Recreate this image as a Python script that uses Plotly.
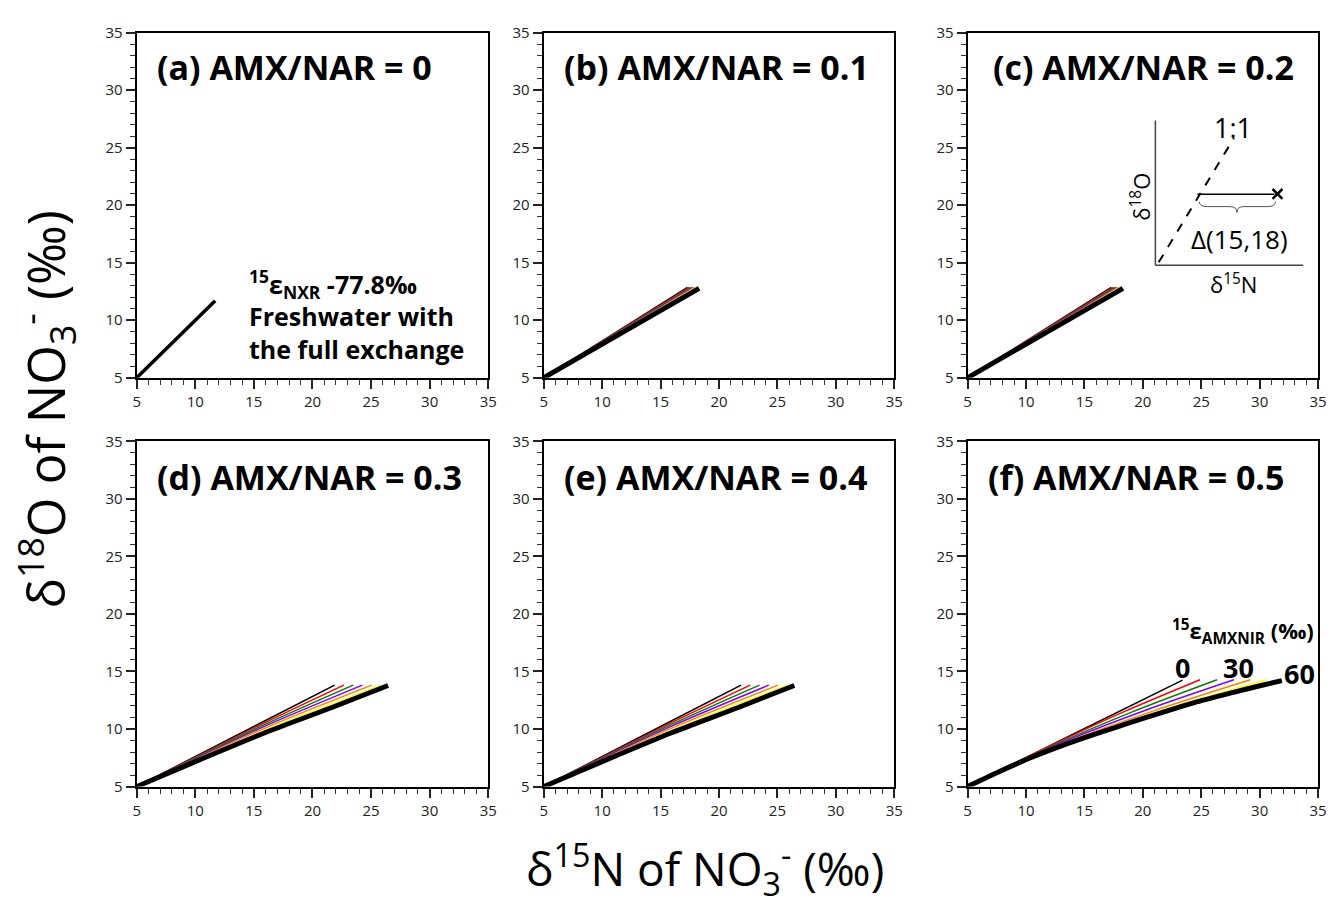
import plotly.graph_objects as go

W, H = 1336, 909

# ---------------- data ----------------
panel_titles = ["(a) AMX/NAR = 0", "(b) AMX/NAR = 0.1", "(c) AMX/NAR = 0.2",
                "(d) AMX/NAR = 0.3", "(e) AMX/NAR = 0.4", "(f) AMX/NAR = 0.5"]
eps_amxnir = [0, 10, 20, 30, 40, 50, 60]
line_colors = ["#000000", "#ff0000", "#008000", "#8000ff", "#ff8000", "#ffff00", "#000000"]
tick_vals = [5, 10, 15, 20, 25, 30, 35]

# panel (a): freshwater, full exchange
a_x = [5, 11.7]
a_y = [5, 11.7]

# panels (b) and (c)
bc_x = [[5, 17.3], [5, 17.45], [5, 17.6], [5, 17.75], [5, 17.9], [5, 18.05], [5, 18.3]]
bc_y = [[5, 12.85], [5, 12.85], [5, 12.85], [5, 12.85], [5, 12.85], [5, 12.85], [5, 12.77]]

# panels (d) and (e)
de_x = [[5, 16, 21.89], [5, 16, 22.68], [5, 16, 23.47], [5, 16, 24.26],
        [5, 16, 25.05], [5, 16, 25.85], [5, 10.3, 16, 21.6, 26.45]]
de_y = [[5, 10.74, 13.81], [5, 10.58, 13.81], [5, 10.42, 13.81], [5, 10.27, 13.81],
        [5, 10.1, 13.81], [5, 9.92, 13.81], [5, 7.3, 9.7, 11.85, 13.78]]

# panel (f)
f_x = [[5, 14.2, 23.4], [5, 12, 18.5, 24.9], [5, 12, 19, 26.35], [5, 12, 20, 27.8],
       [5, 12, 21, 29.2], [5, 12, 22, 30.6],
       [5, 7.6, 10.4, 13.2, 16.1, 18.9, 21.7, 24.6, 27.4, 30.2, 31.9]]
f_y = [[5, 9.63, 14.25], [5, 8.5, 11.55, 14.28], [5, 8.42, 11.45, 14.28], [5, 8.36, 11.55, 14.28],
       [5, 8.3, 11.6, 14.28], [5, 8.25, 11.75, 14.28],
       [5, 6.25, 7.5, 8.6, 9.62, 10.55, 11.45, 12.35, 13.1, 13.8, 14.2]]

# ---------------- figure ----------------
def px(x):
    return x / W

def py(y):
    return 1 - y / H

FONT = "Open Sans"
fig = go.Figure()

x_domains = [(134, 489), (545, 899), (973, 1327)]
y_domains = [(22, 375), (440, 793)]

for r in range(2):
    for c in range(3):
        k = r * 3 + c + 1
        xa = "xaxis" if k == 1 else f"xaxis{k}"
        ya = "yaxis" if k == 1 else f"yaxis{k}"
        common = dict(range=[5, 35], showgrid=False, zeroline=False, showline=True,
                      linecolor="black", linewidth=2, mirror=True,
                      ticks="outside", ticklen=9, tickwidth=1.5, tickcolor="#222",
                      tickvals=tick_vals,
                      tickfont=dict(family=FONT, size=15, color="#222"),
                      minor=dict(dtick=1, ticks="outside", ticklen=5, tickwidth=1, tickcolor="#333"))
        x0, x1 = x_domains[c]
        y0, y1 = y_domains[r]
        fig.layout[xa] = dict(domain=[px(x0), px(x1)], anchor=f"y{k}" if k > 1 else "y", **common)
        fig.layout[ya] = dict(domain=[py(y1), py(y0)], anchor=f"x{k}" if k > 1 else "x", **common)


def add_curves(k, xs, ys):
    for i, (xx, yy) in enumerate(zip(xs, ys)):
        thick = i == len(xs) - 1
        fig.add_trace(go.Scatter(
            x=xx, y=yy, mode="lines",
            line=dict(color=line_colors[i], width=5 if thick else 1.5, shape="spline", smoothing=0.8),
            xaxis="x" if k == 1 else f"x{k}", yaxis="y" if k == 1 else f"y{k}",
            showlegend=False, hoverinfo="skip"))

fig.add_trace(go.Scatter(x=a_x, y=a_y, mode="lines", line=dict(color="black", width=3.5),
                         showlegend=False, hoverinfo="skip"))
add_curves(2, bc_x, bc_y)
add_curves(3, bc_x, bc_y)
add_curves(4, de_x, de_y)
add_curves(5, de_x, de_y)
add_curves(6, f_x, f_y)

ann = []
def text(t, x, y, size, xanchor="center", angle=0, align="center"):
    ann.append(dict(text=t, x=px(x), y=py(y), xref="paper", yref="paper",
                    xanchor=xanchor, yanchor="middle", align=align, showarrow=False,
                    textangle=angle, font=dict(family=FONT, size=size, color="black")))

title_pos = [(152, 57), (563, 57), (997, 57), (152, 476), (563, 476), (992, 476)]
for t, (x, y) in zip(panel_titles, title_pos):
    text(f"<b>{t}</b>", x, y, 34, xanchor="left")

text("<b><sup>15</sup>ε<sub>NXR</sub> -77.8‰<br>Freshwater with<br>the full exchange</b>",
     245, 311, 25, xanchor="left", align="left")

text("<b><sup>15</sup>ε<sub>AMXNIR</sub> (‰)</b>", 1251, 634, 22)
for lab, (x, y) in zip(["0", "30", "60"], [(1190, 671), (1247, 671), (1308, 677)]):
    text(f"<b>{lab}</b>", x, y, 27)

# inset schematic in panel (c)
text("1:1", 1241, 119, 27)
text("Δ(15,18)", 1248, 233, 26)
text("δ<sup>18</sup>O", 1148, 190, 22, angle=-90)
text("δ<sup>15</sup>N", 1242, 279, 22)

# axis titles
text("δ<sup>18</sup>O of NO<sub>3</sub><sup>-</sup> (‰)", 42, 408, 51, angle=-90)
text("δ<sup>15</sup>N of NO<sub>3</sub><sup>-</sup> (‰)", 708, 877, 46)

shapes = []
def seg(x0, y0, x1, y1, color="black", width=1.5, dash="solid"):
    shapes.append(dict(type="line", xref="paper", yref="paper", x0=px(x0), y0=py(y0),
                       x1=px(x1), y1=py(y1), line=dict(color=color, width=width, dash=dash)))

seg(1162.7, 112, 1162.7, 260, color="#444", width=1.5)
seg(1162.7, 260, 1312, 260, color="#444", width=1.5)
seg(1166, 257, 1242, 130, color="black", width=2, dash="dash")
seg(1205, 187.3, 1283, 187.3, color="black", width=1.5)
seg(1281, 182, 1291, 192, color="black", width=2.5)
seg(1281, 192, 1291, 182, color="black", width=2.5)

pts = [(1207, 195), (1207, 200), (1215, 200), (1238, 200), (1245, 200), (1245, 206),
       (1245, 200), (1252, 200), (1276, 200), (1284, 200), (1284, 195)]
P = [(px(a), py(b)) for a, b in pts]
path = (f"M {P[0][0]},{P[0][1]} Q {P[1][0]},{P[1][1]} {P[2][0]},{P[2][1]} "
        f"L {P[3][0]},{P[3][1]} Q {P[4][0]},{P[4][1]} {P[5][0]},{P[5][1]} "
        f"Q {P[6][0]},{P[6][1]} {P[7][0]},{P[7][1]} L {P[8][0]},{P[8][1]} "
        f"Q {P[9][0]},{P[9][1]} {P[10][0]},{P[10][1]}")
shapes.append(dict(type="path", xref="paper", yref="paper", path=path,
                   line=dict(color="#555", width=1)))

fig.update_layout(width=W, height=H, margin=dict(l=0, r=0, t=0, b=0),
                  paper_bgcolor="white", plot_bgcolor="white",
                  annotations=ann, shapes=shapes, showlegend=False,
                  font=dict(family=FONT))

fig.write_html("out.html")
